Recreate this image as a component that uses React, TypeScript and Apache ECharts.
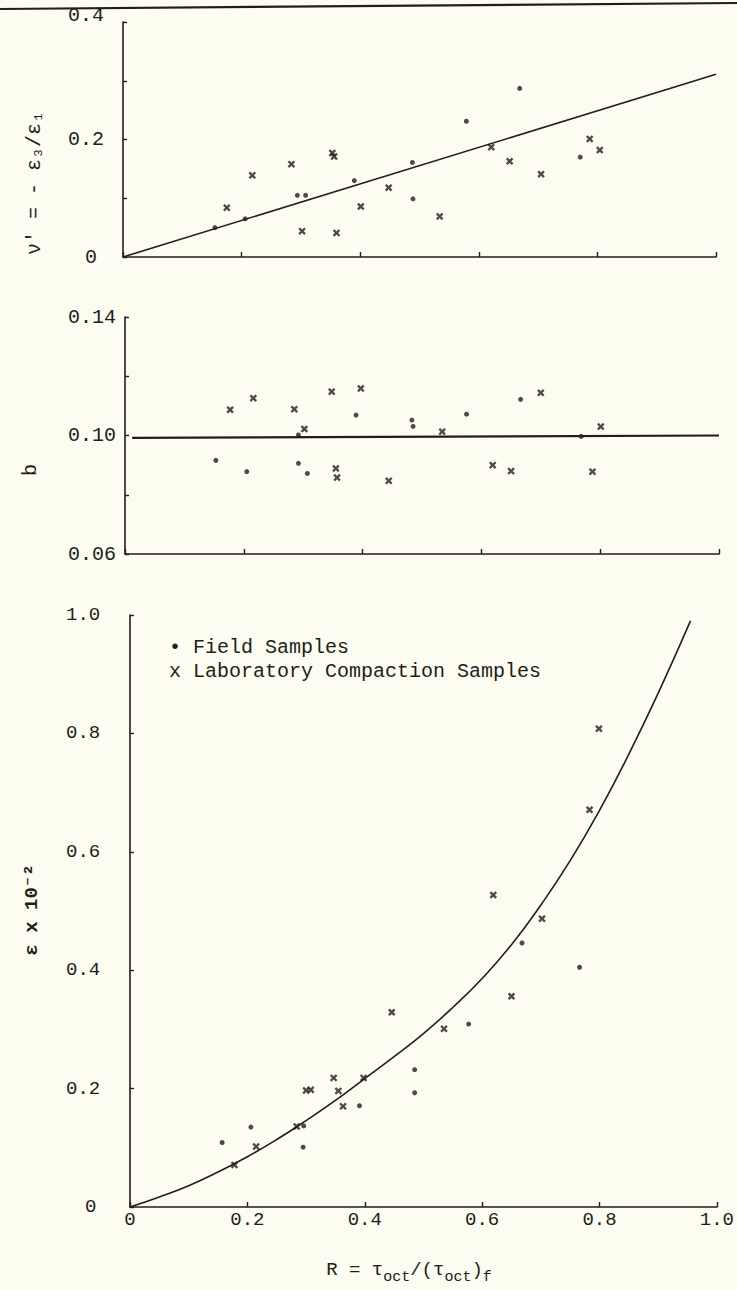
import React, { useEffect, useRef } from 'react';
import * as echarts from 'echarts';

const INK = '#241c1a';
const BG = '#fcfcf1';
const MONO = '"Liberation Mono", "DejaVu Sans Mono", monospace';

// ---------- Panel 1: nu' = -eps3/eps1 vs R ----------
const p1Field: number[][] = [
  [0.155, 0.05], [0.206, 0.065], [0.294, 0.105], [0.308, 0.105], [0.39, 0.13],
  [0.488, 0.161], [0.489, 0.099], [0.579, 0.231], [0.669, 0.287], [0.771, 0.17],
];
const p1Lab: number[][] = [
  [0.175, 0.084], [0.218, 0.139], [0.284, 0.158], [0.302, 0.044], [0.353, 0.177],
  [0.356, 0.171], [0.36, 0.041], [0.401, 0.086], [0.448, 0.118], [0.534, 0.069],
  [0.621, 0.187], [0.652, 0.163], [0.705, 0.141], [0.787, 0.201], [0.804, 0.182],
];
const p1Fit: number[][] = [[0, 0], [1.0, 0.311]];

// ---------- Panel 2: b vs R ----------
const p2Field: number[][] = [
  [0.153, 0.0916], [0.205, 0.0878], [0.292, 0.0906], [0.292, 0.1002], [0.307, 0.0872],
  [0.389, 0.1069], [0.483, 0.1052], [0.485, 0.1031], [0.575, 0.1072], [0.666, 0.1122],
  [0.768, 0.0997],
];
const p2Lab: number[][] = [
  [0.177, 0.1087], [0.216, 0.1126], [0.285, 0.1089], [0.302, 0.1022], [0.348, 0.1148],
  [0.355, 0.0889], [0.357, 0.0858], [0.397, 0.1159], [0.444, 0.0847], [0.534, 0.1013],
  [0.619, 0.09], [0.65, 0.088], [0.7, 0.1144], [0.787, 0.0878], [0.801, 0.103],
];
const p2Fit: number[][] = [[0.012, 0.0992], [1.0, 0.1]];

// ---------- Panel 3: eps x 10^-2 vs R ----------
const p3Field: number[][] = [
  [0.157, 0.109], [0.206, 0.135], [0.295, 0.101], [0.296, 0.137], [0.391, 0.171],
  [0.485, 0.232], [0.485, 0.193], [0.577, 0.309], [0.668, 0.446], [0.766, 0.405],
];
const p3Lab: number[][] = [
  [0.178, 0.071], [0.215, 0.102], [0.284, 0.136], [0.3, 0.197], [0.308, 0.198],
  [0.347, 0.218], [0.355, 0.196], [0.363, 0.17], [0.398, 0.218], [0.446, 0.329],
  [0.535, 0.301], [0.619, 0.527], [0.65, 0.356], [0.702, 0.487], [0.783, 0.671],
  [0.799, 0.808],
];
const p3Fit: number[][] = [
  [0, 0], [0.05, 0.017], [0.1, 0.036], [0.15, 0.059], [0.2, 0.085], [0.25, 0.114],
  [0.3, 0.146], [0.35, 0.18], [0.4, 0.217], [0.45, 0.254], [0.5, 0.293],
  [0.55, 0.337], [0.6, 0.386], [0.65, 0.443], [0.7, 0.51], [0.75, 0.585],
  [0.8, 0.67], [0.85, 0.765], [0.9, 0.868], [0.955, 0.99],
];

// ---------- tick labels ----------
const xTickLabels = ['0', '0.2', '0.4', '0.6', '0.8', '1.0'];
const y1TickLabels = ['0', '', '0.2', '', '0.4'];
const y2TickLabels = ['0.06', '', '0.10', '', '0.14'];
const y3TickLabels = ['0', '0.2', '0.4', '0.6', '0.8', '1.0'];

const LEGEND_FIELD = 'Field Samples';
const LEGEND_LAB = 'Laboratory Compaction Samples';

const X_SYMBOL =
  'path://M0,2.2L2.2,0L5,2.8L7.8,0L10,2.2L7.2,5L10,7.8L7.8,10L5,7.2L2.2,10L0,7.8L2.8,5Z';

function labelFrom(labels: string[], min: number, step: number) {
  return (v: number) => {
    const i = Math.round((v - min) / step);
    const s = labels[i] ?? '';
    if (s === '0') return '{z|0}';
    if (s === '0.4' && labels === y1TickLabels) return '{t|0.4}';
    return s;
  };
}

export default function App() {
  const ref = useRef<HTMLDivElement>(null);

  useEffect(() => {
    document.body.style.margin = '0';
    if (!ref.current) return;
    const chart = echarts.init(ref.current, undefined, { renderer: 'svg' });

    const axisLine = { show: true, onZero: false, lineStyle: { color: INK, width: 1.6 } };
    const axisTick = { show: true, inside: true, length: 5, lineStyle: { color: INK, width: 1.4 } };

    const xAxisBase = (gi: number, showLabel: boolean) => ({
      type: 'value',
      gridIndex: gi,
      min: 0,
      max: 1,
      interval: 0.2,
      axisLine,
      axisTick,
      splitLine: { show: false },
      axisLabel: {
        show: showLabel,
        color: INK,
        fontFamily: MONO,
        fontSize: 19,
        margin: 3,
        formatter: labelFrom(xTickLabels, 0, 0.2),
        rich: { z: { fontFamily: MONO, fontSize: 19, color: INK } },
      },
    });

    const yAxisBase = (
      gi: number,
      min: number,
      max: number,
      interval: number,
      labels: string[],
      margin: number,
      fontSize: number,
      zPad: number,
    ) => ({
      type: 'value',
      gridIndex: gi,
      min,
      max,
      interval,
      axisLine,
      axisTick: { ...axisTick, length: 4 },
      splitLine: { show: false },
      axisLabel: {
        color: INK,
        fontFamily: MONO,
        fontSize,
        align: 'left',
        margin,
        formatter: labelFrom(labels, min, interval),
        rich: {
          z: { fontFamily: MONO, fontSize, color: INK, padding: [0, 0, 0, zPad] },
          t: { fontFamily: MONO, fontSize, color: INK, padding: [0, 0, 14, 0] },
        },
      },
    });

    const scatter = (name: string, gi: number, data: number[][], isLab: boolean) => ({
      type: 'scatter',
      name,
      xAxisIndex: gi,
      yAxisIndex: gi,
      data,
      symbol: isLab ? X_SYMBOL : 'circle',
      symbolSize: isLab ? 7.5 : 5,
      itemStyle: { color: INK },
      silent: true,
    });

    const fit = (gi: number, data: number[][], width: number, smooth: boolean | number) => ({
      type: 'line',
      xAxisIndex: gi,
      yAxisIndex: gi,
      data,
      symbol: 'none',
      showSymbol: false,
      smooth,
      lineStyle: { color: INK, width },
      silent: true,
    });

    const option: any = {
      animation: false,
      backgroundColor: BG,
      grid: [
        { left: 123, top: 22, width: 593, height: 235 },
        { left: 125, top: 317, width: 594, height: 237 },
        { left: 130, top: 615, width: 590, height: 592 },
      ],
      xAxis: [xAxisBase(0, false), xAxisBase(1, false), xAxisBase(2, true)],
      yAxis: [
        yAxisBase(0, 0, 0.4, 0.1, y1TickLabels, 55, 20, 17),
        yAxisBase(1, 0.06, 0.14, 0.02, y2TickLabels, 57, 20, 17),
        yAxisBase(2, 0, 1.0, 0.2, y3TickLabels, 64, 19, 19),
      ],
      legend: {
        show: true,
        orient: 'vertical',
        left: 158,
        top: 632,
        itemWidth: 1,
        itemHeight: 10,
        itemGap: 4,
        icon: 'rect',
        itemStyle: { opacity: 0 },
        selectedMode: false,
        data: [LEGEND_FIELD, LEGEND_LAB],
        formatter: (n: string) => (n === LEGEND_FIELD ? '\u2022 ' + n : 'x ' + n),
        textStyle: { fontFamily: MONO, fontSize: 20, color: INK },
      },
      series: [
        fit(0, p1Fit, 1.6, false),
        scatter(LEGEND_FIELD, 0, p1Field, false),
        scatter(LEGEND_LAB, 0, p1Lab, true),
        fit(1, p2Fit, 2.2, false),
        scatter(LEGEND_FIELD, 1, p2Field, false),
        scatter(LEGEND_LAB, 1, p2Lab, true),
        fit(2, p3Fit, 1.6, 0.5),
        scatter(LEGEND_FIELD, 2, p3Field, false),
        scatter(LEGEND_LAB, 2, p3Lab, true),
      ],
      graphic: [
        {
          type: 'line',
          shape: { x1: 0, y1: 9, x2: 737, y2: 3 },
          style: { stroke: INK, lineWidth: 2.2 },
          z: -1,
        },
        {
          type: 'text',
          x: 34,
          y: 183,
          rotation: Math.PI / 2,
          style: {
            text: "\u03bd' = - \u03b5\u2083/\u03b5\u2081",
            fill: INK,
            fontFamily: MONO,
            fontSize: 20,
            align: 'center',
            verticalAlign: 'middle',
          },
        },
        {
          type: 'text',
          x: 30,
          y: 470,
          rotation: Math.PI / 2,
          style: {
            text: 'b',
            fill: INK,
            fontFamily: MONO,
            fontSize: 20,
            align: 'center',
            verticalAlign: 'middle',
          },
        },
        {
          type: 'text',
          x: 32,
          y: 910,
          rotation: Math.PI / 2,
          style: {
            text: '\u03b5 x 10\u207b\u00b2',
            fill: INK,
            fontFamily: MONO,
            fontSize: 19,
            fontWeight: 'bold',
            align: 'center',
            verticalAlign: 'middle',
          },
        },
        {
          type: 'text',
          x: 409,
          y: 1270,
          style: {
            text: 'R = \u03c4{s|oct}/(\u03c4{s|oct}){s|f}',
            fill: INK,
            fontFamily: MONO,
            fontSize: 19,
            align: 'center',
            verticalAlign: 'middle',
            rich: {
              s: { fill: INK, fontFamily: MONO, fontSize: 15, padding: [14, 0, 0, 0] },
            },
          },
        },
      ],
    };

    chart.setOption(option);
    return () => chart.dispose();
  }, []);

  return (
    <div
      ref={ref}
      style={{ position: 'absolute', left: 0, top: 0, width: 737, height: 1290 }}
    />
  );
}
